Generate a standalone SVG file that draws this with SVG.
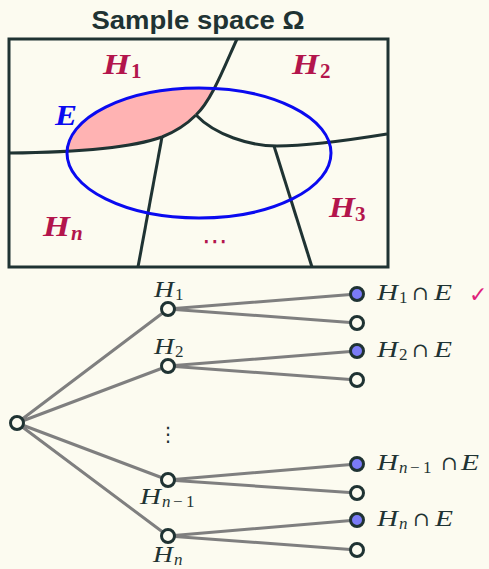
<svg xmlns="http://www.w3.org/2000/svg" width="489" height="569" viewBox="0 0 489 569">
<style>
.dk{stroke:#1f3333;fill:none;stroke-width:3}
.ed{stroke:#7f7f7f;stroke-width:3;fill:none}
.nd{fill:#fcfbf0;stroke:#1f3333;stroke-width:3}
.nf{fill:#7b7bf7;stroke:#1f3333;stroke-width:3}
.vh{font-family:"Liberation Serif",serif;font-weight:bold;font-style:italic;fill:#b3154c;font-size:29px}
.vs{font-family:"Liberation Serif",serif;font-weight:bold;font-style:italic;fill:#b3154c;font-size:21px}
.mt{font-family:"Liberation Serif",serif;font-style:italic;fill:#1f3333;font-size:24px}
.ms{font-family:"Liberation Serif",serif;font-style:italic;fill:#1f3333;font-size:17px}
.up{font-style:normal}
.mr{font-family:"DejaVu Serif","Liberation Serif",serif;fill:#1f3333;font-size:20px}
</style>
<defs>
<clipPath id="ec"><ellipse cx="199" cy="153" rx="132" ry="65"/></clipPath>
</defs>
<rect width="489" height="569" fill="#fcfbf0"/>
<g id="venn">
<text x="198" y="29" text-anchor="middle" font-family="Liberation Sans, Arial, sans-serif" font-weight="bold" font-size="26" fill="#1f3333" textLength="213" lengthAdjust="spacingAndGlyphs">Sample space Ω</text>
<path clip-path="url(#ec)" fill="#ffb3b3" d="M 9 153 Q 120 152 162 137 Q 182 129 196 115 C 212 100 225 65 237 39 L 9 39 Z"/>
<rect class="dk" x="9" y="39" width="379" height="228"/>
<path class="dk" d="M 9 153 Q 120 152 162 137 Q 182 129 196 115"/>
<path class="dk" d="M 237 39 C 225 65 212 100 196 115"/>
<path class="dk" d="M 196 115 C 215 135 250 146 277 146 C 310 146 350 140 387 134"/>
<path class="dk" d="M 162 137 L 138 267"/>
<path class="dk" d="M 274 146 L 312 267"/>
<ellipse cx="199" cy="153" rx="132" ry="65" fill="none" stroke="#0a0af0" stroke-width="3"/>
<text class="vh" x="103" y="74" textLength="27" lengthAdjust="spacingAndGlyphs">H</text><text class="vs up" x="131" y="78">1</text>
<text class="vh" x="292" y="74" textLength="27" lengthAdjust="spacingAndGlyphs">H</text><text class="vs up" x="320" y="78">2</text>
<text class="vh" x="329" y="217" textLength="26" lengthAdjust="spacingAndGlyphs">H</text><text class="vs up" x="355" y="221">3</text>
<text class="vh" x="43" y="236" textLength="27" lengthAdjust="spacingAndGlyphs">H</text><text class="vs" x="71" y="240">n</text>
<text class="vh" x="55" y="125" style="fill:#0a0af0" textLength="22" lengthAdjust="spacingAndGlyphs">E</text>
<text x="215" y="250" text-anchor="middle" font-family="DejaVu Sans, sans-serif" font-size="26" fill="#b3154c">⋯</text>
</g>
<g id="edges">
<path class="ed" d="M 17 423 L 168 309 M 17 423 L 168 366 M 17 423 L 168 480 M 17 423 L 168 536"/>
<path class="ed" d="M 168 309 L 357 294 M 168 309 L 357 323 M 168 366 L 357 351 M 168 366 L 357 380 M 168 480 L 357 464 M 168 480 L 357 493 M 168 536 L 357 520 M 168 536 L 357 550"/>
</g>
<g id="root"><circle class="nd" cx="17" cy="423" r="6.5"/></g>
<g id="h1"><circle class="nd" cx="168" cy="309" r="6.5"/><text class="mt" x="154" y="297" textLength="20" lengthAdjust="spacingAndGlyphs">H</text><text class="ms up" x="175" y="300">1</text></g>
<g id="h2"><circle class="nd" cx="168" cy="366" r="6.5"/><text class="mt" x="154" y="354" textLength="20" lengthAdjust="spacingAndGlyphs">H</text><text class="ms up" x="175" y="357">2</text></g>
<g id="hn1"><circle class="nd" cx="168" cy="480" r="6.5"/><text class="mt" x="140" y="504" textLength="21" lengthAdjust="spacingAndGlyphs">H</text><text class="ms" x="162" y="507">n<tspan class="up" x="173">−</tspan><tspan class="up" x="186">1</tspan></text></g>
<g id="hn"><circle class="nd" cx="168" cy="536" r="6.5"/><text class="mt" x="153" y="562" textLength="20" lengthAdjust="spacingAndGlyphs">H</text><text class="ms" x="174" y="565">n</text></g>
<text x="168" y="441" text-anchor="middle" font-family="DejaVu Sans, sans-serif" font-size="20" fill="#1f3333">⋮</text>
<g id="l1"><circle class="nf" cx="357" cy="294" r="6.5"/><text class="mt" x="377" y="300" textLength="21" lengthAdjust="spacingAndGlyphs">H</text><text class="ms up" x="399" y="303">1</text><text class="mr" x="412" y="300">∩</text><text class="mt" x="434" y="300" textLength="18" lengthAdjust="spacingAndGlyphs">E</text><text x="469" y="302" font-family="DejaVu Sans, sans-serif" font-size="22" fill="#e0207a">✓</text></g>
<g id="l2"><circle class="nd" cx="357" cy="323" r="6.5"/></g>
<g id="l3"><circle class="nf" cx="357" cy="351" r="6.5"/><text class="mt" x="377" y="357" textLength="21" lengthAdjust="spacingAndGlyphs">H</text><text class="ms up" x="399" y="360">2</text><text class="mr" x="412" y="357">∩</text><text class="mt" x="434" y="357" textLength="18" lengthAdjust="spacingAndGlyphs">E</text></g>
<g id="l4"><circle class="nd" cx="357" cy="380" r="6.5"/></g>
<g id="l5"><circle class="nf" cx="357" cy="464" r="6.5"/><text class="mt" x="377" y="470" textLength="21" lengthAdjust="spacingAndGlyphs">H</text><text class="ms" x="399" y="473">n<tspan class="up" x="410">−</tspan><tspan class="up" x="423">1</tspan></text><text class="mr" x="441" y="470">∩</text><text class="mt" x="461" y="470" textLength="18" lengthAdjust="spacingAndGlyphs">E</text></g>
<g id="l6"><circle class="nd" cx="357" cy="493" r="6.5"/></g>
<g id="l7"><circle class="nf" cx="357" cy="520" r="6.5"/><text class="mt" x="377" y="526" textLength="21" lengthAdjust="spacingAndGlyphs">H</text><text class="ms" x="399" y="529">n</text><text class="mr" x="413" y="526">∩</text><text class="mt" x="435" y="526" textLength="18" lengthAdjust="spacingAndGlyphs">E</text></g>
<g id="l8"><circle class="nd" cx="357" cy="550" r="6.5"/></g>
</svg>
